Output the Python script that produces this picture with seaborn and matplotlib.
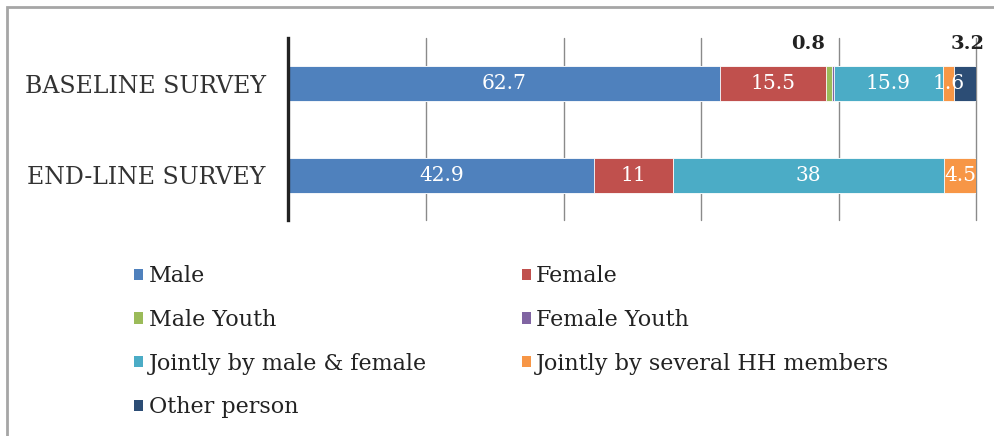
import matplotlib
matplotlib.use("Agg")
import matplotlib.pyplot as plt
from matplotlib.patches import Patch, Rectangle
import numpy as np
import pandas as pd
import seaborn as sns

# ---- data -------------------------------------------------------------
surveys = ["BASELINE SURVEY", "END-LINE SURVEY"]
groups = ["Male", "Female", "Male Youth", "Female Youth",
          "Jointly by male & female", "Jointly by several HH members",
          "Other person"]
baseline = [62.7, 15.5, 0.8, 0.3, 15.9, 1.6, 3.2]
endline = [42.9, 11.0, 0.0, 0.0, 38.0, 4.5, 0.0]
palette = ["#4F81BD", "#C0504D", "#9BBB59", "#8064A2",
           "#4BACC6", "#F79646", "#2C4D75"]

# ---- tidy frame with 100% stacked extents ------------------------------
rows = []
for s, vals in zip(surveys, [baseline, endline]):
    for g, v in zip(groups, vals):
        rows.append({"survey": s, "group": g, "value": v})
df = pd.DataFrame(rows)
df["share"] = df["value"] / df.groupby("survey")["value"].transform("sum") * 100
df["end"] = df.groupby("survey")["share"].cumsum()
df["start"] = df["end"] - df["share"]
df["mid"] = (df["start"] + df["end"]) / 2

sns.set_theme(style="white")
plt.rcParams["font.family"] = ["DejaVu Serif"]

fig = plt.figure(figsize=(9.95, 4.36), dpi=100)
ax = fig.add_axes([288.5 / 995, 1 - 220 / 436, (976 - 288.5) / 995, 182 / 436])

# stack by overdrawing cumulative bars, last group first
for g, c in reversed(list(zip(groups, palette))):
    sub = df[df["group"] == g]
    sns.barplot(data=sub, x="end", y="survey", order=surveys, color=c,
                orient="h", width=0.38, edgecolor="white", linewidth=0.6,
                saturation=1, ax=ax, zorder=3)

ax.set_xlim(0, 100)
ax.set_ylim(1.49, -0.5)
ax.set_xlabel("")
ax.set_ylabel("")
ax.set_xticks([0, 20, 40, 60, 80, 100])
ax.set_xticklabels([])
ax.tick_params(axis="x", length=0)
ax.tick_params(axis="y", length=0, pad=16.5, labelsize=17, labelcolor="#333333")
ax.grid(axis="x", color="#8a8a8a", linewidth=1.0, zorder=0)
ax.grid(axis="y", visible=False)
for gl in ax.get_xgridlines():
    gl.set_clip_on(False)
for side in ["top", "right", "bottom"]:
    ax.spines[side].set_visible(False)
ax.spines["left"].set_color("#222222")
ax.spines["left"].set_linewidth(2.4)
ax.spines["left"].set_zorder(5)

# ---- value labels -----------------------------------------------------
above = {("BASELINE SURVEY", "Male Youth"): -15,
         ("BASELINE SURVEY", "Other person"): 2}
hidden = {("BASELINE SURVEY", "Female Youth")}
ypos = {s: i for i, s in enumerate(surveys)}
for _, r in df.iterrows():
    key = (r["survey"], r["group"])
    if r["value"] <= 0 or key in hidden:
        continue
    txt = f"{r['value']:g}"
    y = ypos[r["survey"]]
    if key in above:
        ax.annotate(txt, xy=(r["mid"], y - 0.19), xytext=(above[key], 16),
                    textcoords="offset points", ha="center", va="center",
                    fontsize=14, fontweight="bold", color="#222222",
                    annotation_clip=False, zorder=6)
    else:
        ax.text(r["mid"], y, txt, ha="center", va="center", fontsize=14.5,
                color="white", zorder=6)

# ---- legend -----------------------------------------------------------
handles = {g: Patch(facecolor=c, edgecolor="none") for g, c in zip(groups, palette)}
order = ["Male", "Male Youth", "Jointly by male & female", "Other person",
         "Female", "Female Youth", "Jointly by several HH members"]
fig.legend([handles[g] for g in order], order, ncol=2, frameon=False,
           loc="upper left", bbox_to_anchor=(123 / 995, 1 - 254 / 436),
           fontsize=16, handlelength=0.4, handleheight=0.4,
           handletextpad=0.25, columnspacing=4.28, labelspacing=0.98,
           borderpad=0, labelcolor="#222222")

# ---- outer border -----------------------------------------------------
fig.patches.append(Rectangle((7 / 995, -0.2), 1.2, 1.2 - 7 / 436 + 0.0,
                             transform=fig.transFigure, fill=False,
                             edgecolor="#a6a6a6", linewidth=2.0))

fig.savefig("out.png", dpi=100)
